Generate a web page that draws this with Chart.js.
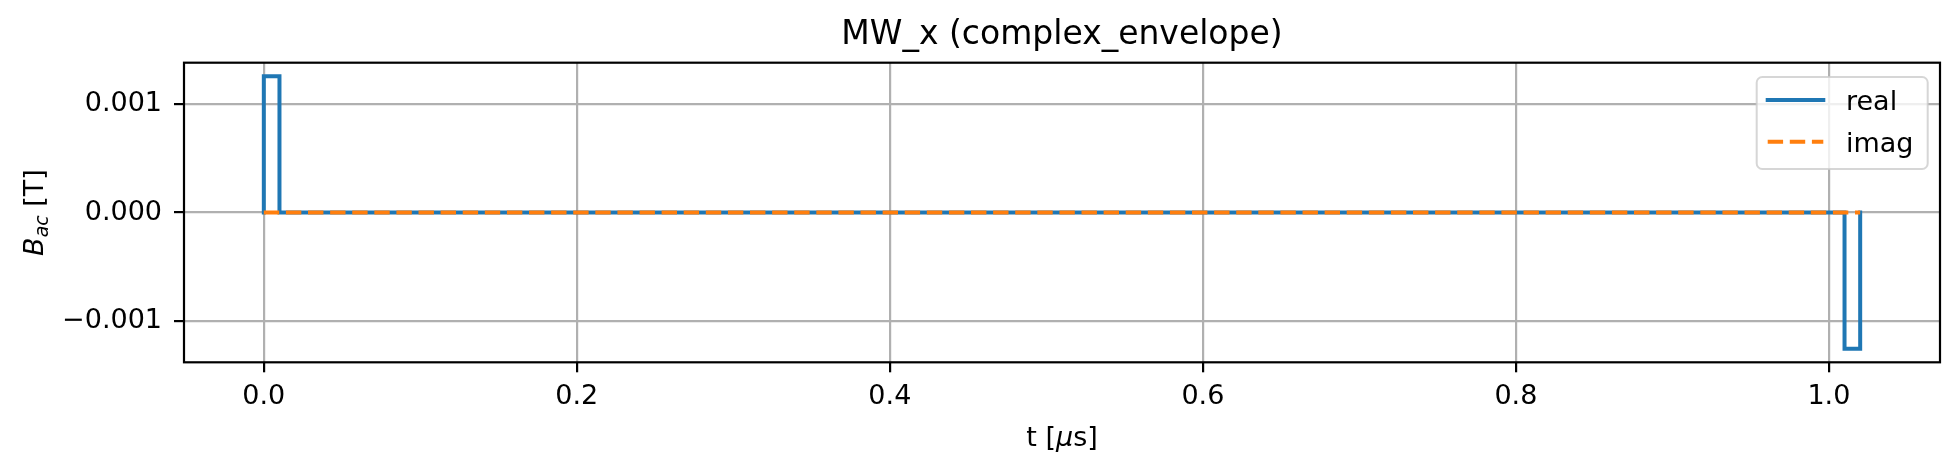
<!DOCTYPE html>
<html>
<head>
<meta charset="utf-8">
<script src="https://cdn.jsdelivr.net/npm/chart.js@4.4.1/dist/chart.umd.min.js"></script>
<style>
  html, body { margin: 0; padding: 0; background: #fff; }
  canvas { display: block; }
</style>
</head>
<body>
<canvas id="pulso" width="1960" height="474"></canvas>
<script>
// datos
const tPts = [0, 0, 0.01, 0.01, 1.01, 1.01, 1.02, 1.02];
const realVals = [0, 0.001255, 0.001255, 0, 0, -0.001255, -0.001255, 0];
const imagVals = [0, 0, 0, 0, 0, 0, 0, 0];
const xTicks = [0, 0.2, 0.4, 0.6, 0.8, 1.0];
const yTicks = [-0.001, 0, 0.001];
const xRange = [-0.051, 1.071];
const yRange = [-0.00138, 0.00138];

const FONT = '"DejaVu Sans"';
const FS = 27;

function toPoints(xs, ys) {
  return xs.map((x, i) => ({ x: x, y: ys[i] }));
}

// dibuja texto con partes en italica / subindice, centrado en x
function drawRich(ctx, parts, cx, baseY) {
  let total = 0;
  parts.forEach(p => { ctx.font = p.f; total += ctx.measureText(p.t).width; });
  let x = cx - total / 2;
  parts.forEach(p => {
    ctx.font = p.f;
    ctx.fillText(p.t, x, baseY + (p.dy || 0));
    x += ctx.measureText(p.t).width;
  });
}

const extrasPlugin = {
  id: 'extras',
  afterDatasetsDraw(chart) {
    const ctx = chart.ctx;
    const a = chart.chartArea;
    ctx.save();
    // marco
    ctx.strokeStyle = '#000';
    ctx.lineWidth = 2.2;
    ctx.strokeRect(a.left, a.top, a.right - a.left, a.bottom - a.top);

    ctx.fillStyle = '#000';
    ctx.textBaseline = 'alphabetic';
    ctx.textAlign = 'left';
    // etiqueta eje x
    drawRich(ctx, [
      { t: 't [', f: FS + 'px ' + FONT },
      { t: 'μ', f: 'italic ' + FS + 'px ' + FONT },
      { t: 's]', f: FS + 'px ' + FONT }
    ], (a.left + a.right) / 2, 446);
    // etiqueta eje y
    ctx.save();
    ctx.translate(43, (a.top + a.bottom) / 2);
    ctx.rotate(-Math.PI / 2);
    drawRich(ctx, [
      { t: 'B', f: 'italic ' + FS + 'px ' + FONT },
      { t: 'ac', f: 'italic 19px ' + FONT, dy: 5 },
      { t: ' [T]', f: FS + 'px ' + FONT }
    ], 0, 0);
    ctx.restore();

    // leyenda
    const bw = 171, bh = 92;
    const bx = a.right - 12.3 - bw;
    const by = a.top + 14.3;
    ctx.globalAlpha = 0.8;
    ctx.beginPath();
    ctx.roundRect(bx, by, bw, bh, 5.6);
    ctx.fillStyle = '#fff';
    ctx.fill();
    ctx.strokeStyle = '#cccccc';
    ctx.lineWidth = 2;
    ctx.stroke();
    ctx.globalAlpha = 1;
    const rows = [by + 23, by + 64.7];
    const hx0 = bx + 11, hx1 = hx0 + 55.6;
    chart.data.datasets.forEach((ds, i) => {
      const y = rows[i];
      ctx.beginPath();
      ctx.strokeStyle = ds.borderColor;
      ctx.lineWidth = ds.borderWidth;
      ctx.lineCap = ds.borderCapStyle;
      ctx.setLineDash(ds.borderDash || []);
      ctx.moveTo(hx0, y);
      ctx.lineTo(hx1, y);
      ctx.stroke();
      ctx.setLineDash([]);
      ctx.fillStyle = '#000';
      ctx.font = FS + 'px ' + FONT;
      ctx.fillText(ds.label, hx1 + 22.7, y + 10);
    });
    ctx.restore();
  }
};

const ctx = document.getElementById('pulso').getContext('2d');
const chart = new Chart(ctx, {
  type: 'line',
  data: {
    datasets: [
      {
        label: 'real',
        data: toPoints(tPts, realVals),
        borderColor: '#1f77b4',
        borderWidth: 4,
        borderCapStyle: 'square',
        borderJoinStyle: 'miter',
        pointRadius: 0,
        tension: 0,
        order: 1
      },
      {
        label: 'imag',
        data: toPoints(tPts, imagVals),
        borderColor: '#ff7f0e',
        borderWidth: 4,
        borderDash: [15.4, 6.7],
        borderCapStyle: 'butt',
        pointRadius: 0,
        tension: 0,
        order: 0
      }
    ]
  },
  options: {
    responsive: false,
    animation: false,
    devicePixelRatio: 1,
    layout: { padding: { left: 0, right: 20, top: 0, bottom: 0 } },
    plugins: {
      legend: { display: false },
      tooltip: { enabled: false },
      title: {
        display: true,
        text: 'MW_x (complex_envelope)',
        color: '#000',
        fullSize: false,
        font: { family: 'DejaVu Sans', size: 33, weight: 'normal', lineHeight: 1.2 },
        padding: { top: 15.4, bottom: 7.7 }
      }
    },
    scales: {
      x: {
        type: 'linear',
        min: xRange[0],
        max: xRange[1],
        afterBuildTicks: s => { s.ticks = xTicks.map(v => ({ value: v })); },
        afterFit: s => { s.height = 474 - 362.3; },
        border: { display: false },
        grid: { color: '#b0b0b0', lineWidth: 2.2, tickColor: '#000', tickWidth: 2.2, tickLength: 10 },
        ticks: {
          color: '#000',
          padding: 8.5,
          maxRotation: 0,
          font: { family: 'DejaVu Sans', size: FS },
          callback: v => v.toFixed(1)
        }
      },
      y: {
        type: 'linear',
        min: yRange[0],
        max: yRange[1],
        afterBuildTicks: s => { s.ticks = yTicks.map(v => ({ value: v })); },
        afterFit: s => { s.width = 184; },
        border: { display: false },
        grid: { color: '#b0b0b0', lineWidth: 2.2, tickColor: '#000', tickWidth: 2.2, tickLength: 10 },
        ticks: {
          color: '#000',
          padding: 12,
          font: { family: 'DejaVu Sans', size: FS },
          callback: v => v.toFixed(3).replace('-', '\u2212')
        }
      }
    }
  },
  plugins: [extrasPlugin]
});
</script>
</body>
</html>
